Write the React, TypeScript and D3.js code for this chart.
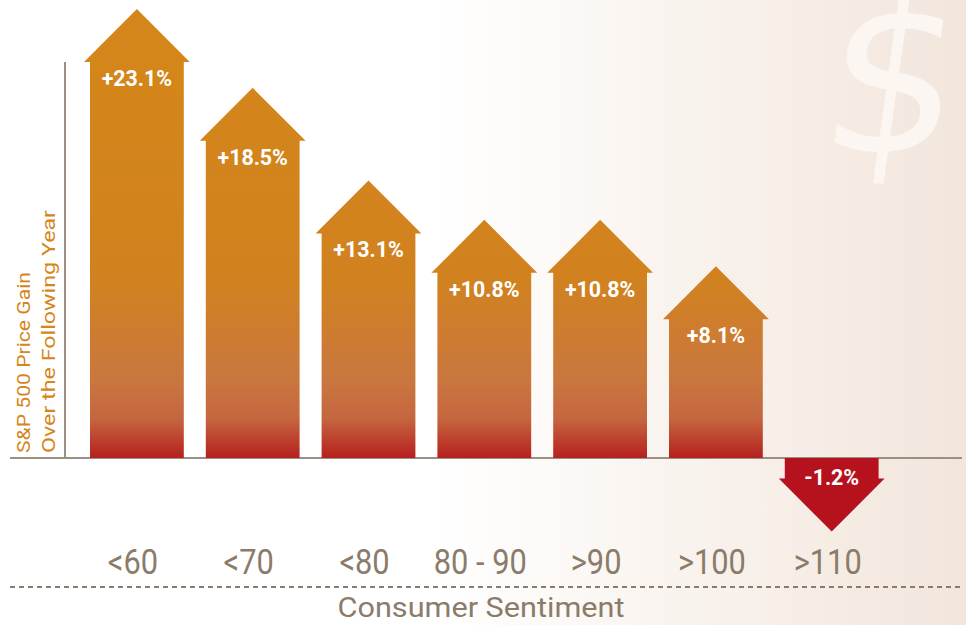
import React from 'react'
import * as d3 from 'd3'

// consumer sentiment buckets and following-year S&P 500 gain
const categories = ['<60', '<70', '<80', '80 - 90', '>90', '>100', '>110']
const gains = [23.1, 18.5, 13.1, 10.8, 10.8, 8.1, -1.2]
const valueLabels = ['+23.1%', '+18.5%', '+13.1%', '+10.8%', '+10.8%', '+8.1%', '-1.2%']

const W = 966
const H = 625
const baseY = 458
const headH = 53
const headOut = 6

const font = "Roboto, 'Noto Sans', sans-serif"
const brown = '#8a7b6b'

export default function App() {
  const x = d3.scaleBand<string>()
    .domain(categories)
    .range([68, 900.6])
    .padding(0.19)

  const y = d3.scaleLinear()
    .domain([0, 23.1])
    .range([baseY, 62])

  const cxOf = (c: string) => (x(c) as number) + x.bandwidth() / 2

  const arrowPath = (cat: string, v: number) => {
    const x0 = x(cat) as number
    const x1 = x0 + x.bandwidth()
    const cx = (x0 + x1) / 2
    const yv = y(v)
    const dir = v >= 0 ? -1 : 1
    const p = d3.path()
    p.moveTo(x0, baseY)
    p.lineTo(x0, yv)
    p.lineTo(x0 - headOut, yv)
    p.lineTo(cx, yv + dir * headH)
    p.lineTo(x1 + headOut, yv)
    p.lineTo(x1, yv)
    p.lineTo(x1, baseY)
    p.closePath()
    return p.toString()
  }

  return (
    <svg width={W} height={H} style={{ position: 'absolute', left: 0, top: 0 }}>
      <defs>
        <linearGradient id="bg" x1="0" y1="0" x2="1" y2="0">
          <stop offset="0" stopColor="#ffffff" />
          <stop offset="0.45" stopColor="#ffffff" />
          <stop offset="0.75" stopColor="#f8f1eb" />
          <stop offset="1" stopColor="#f2e6dc" />
        </linearGradient>
        <linearGradient id="barFill" gradientUnits="userSpaceOnUse" x1="0" y1="62" x2="0" y2={baseY}>
          <stop offset="0" stopColor="#d4861a" />
          <stop offset="0.55" stopColor="#d1821f" />
          <stop offset="0.8" stopColor="#ca773f" />
          <stop offset="0.9" stopColor="#c5663f" />
          <stop offset="1" stopColor="#b5201e" />
        </linearGradient>
      </defs>

      <rect x={0} y={0} width={W} height={H} fill="url(#bg)" />

      {/* faint dollar watermark, cropped by the right edge as in the source */}
      <text x={885} y={152} textAnchor="middle" fontFamily="'DejaVu Sans', sans-serif"
        fontSize={215} fill="#fbf6f2" transform="skewX(-8) translate(20,0)">$</text>

      {/* axes */}
      <line x1={65} x2={65} y1={62} y2={baseY} stroke="#9c9084" strokeWidth={2} />
      <line x1={10} x2={962} y1={baseY} y2={baseY} stroke="#9c9084" strokeWidth={2} />

      {/* arrows */}
      {categories.map((c, i) => (
        <path key={c} d={arrowPath(c, gains[i])}
          fill={gains[i] >= 0 ? 'url(#barFill)' : '#b5121d'} />
      ))}

      {/* value labels */}
      {categories.map((c, i) => {
        const ty = gains[i] >= 0 ? y(gains[i]) + 24 : baseY + 27
        return (
          <text key={c} transform={`translate(${cxOf(c)},${ty}) scale(0.93,1)`} textAnchor="middle"
            fill="#ffffff" fontFamily={font} fontWeight={700} fontSize={23}>{valueLabels[i]}</text>
        )
      })}

      {/* category labels */}
      {categories.map(c => (
        <text key={c} transform={`translate(${cxOf(c) - 4},574) scale(0.88,1)`} textAnchor="middle"
          fill={brown} fontFamily={font} fontWeight={400} fontSize={35}>{c}</text>
      ))}

      <line x1={10} x2={962} y1={587} y2={587} stroke={brown} strokeWidth={2} strokeDasharray="5 4" />

      <text x={481} y={617} textAnchor="middle" fill={brown} fontFamily={font} fontSize={28}
        textLength={287} lengthAdjust="spacingAndGlyphs">Consumer Sentiment</text>

      {/* y axis title */}
      <g transform="translate(30,453) rotate(-90)">
        <text x={0} y={0} fill="#d4861a" fontFamily={font} fontSize={19}
          textLength={181} lengthAdjust="spacingAndGlyphs">S&amp;P 500 Price Gain</text>
        <text x={0} y={25} fill="#d4861a" fontFamily={font} fontSize={19}
          textLength={243} lengthAdjust="spacingAndGlyphs">Over the Following Year</text>
      </g>
    </svg>
  )
}
